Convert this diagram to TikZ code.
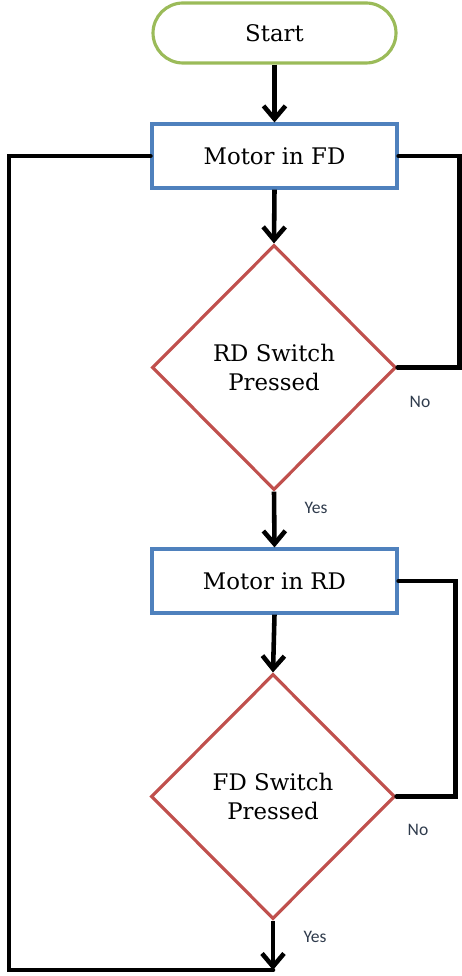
\documentclass[tikz,border=0pt]{standalone}
\usepackage{fontspec}
\setmainfont{DejaVu Serif}
\newfontfamily\notefont{Carlito}
\usetikzlibrary{arrows.meta,shapes.geometric}
\definecolor{flowgreen}{HTML}{9BBB59}
\definecolor{flowblue}{HTML}{4F81BD}
\definecolor{flowred}{HTML}{C0504D}
\definecolor{flownote}{HTML}{2F3B4C}

\begin{document}
\begin{tikzpicture}[
  x=0.02cm,y=-0.02cm,
  terminal/.style={draw=flowgreen,line width=1.8pt,rounded corners=0.6cm,
    minimum width=4.86cm,minimum height=1.2cm,inner sep=0pt,
    font=\fontsize{13}{16}\selectfont},
  process/.style={draw=flowblue,line width=1.8pt,
    minimum width=4.9cm,minimum height=1.28cm,inner sep=0pt,
    font=\fontsize{13}{16}\selectfont},
  decision/.style={diamond,draw=flowred,line width=1.8pt,
    minimum width=4.88cm,minimum height=4.9cm,inner sep=0pt,align=center,
    font=\fontsize{13}{17}\selectfont},
  wire/.style={-{Straight Barb[length=2.6mm,width=4.4mm,line width=2.6pt]},
    draw=black,line width=2.6pt},
  loop/.style={draw=black,line width=2.6pt,line cap=round},
  note/.style={font=\notefont\fontsize{10}{12}\selectfont,text=flownote},
]
  \useasboundingbox (0,0) rectangle (462,976);

  \node[terminal] (start) at (274.5,33) {Start};
  \node[process] (fd) at (274.5,156) {Motor in FD};
  \node[decision] (rdsw) at (274,367.5) {RD Switch\\Pressed};
  \node[process] (rd) at (274.5,581) {Motor in RD};
  \node[decision] (fdsw) at (273,796.5) {FD Switch\\Pressed};
  \coordinate (bot) at (273,970);

  \draw[wire] (start.south) -- (fd.north);
  \draw[wire] (fd.south) -- (rdsw.north);
  \draw[wire] (rdsw.south) -- (rd.north);
  \draw[wire] (rd.south) -- (fdsw.north);
  \draw[wire] (fdsw.south) -- (bot);

  % "No" keeps the motor running, "Yes" falls through to the next step.
  \draw[loop] (rdsw.east) -- ++(62,0) |- (fd.east);
  \draw[loop] (fdsw.east) -- ++(59,0) |- (rd.east);
  \draw[loop] (bot) -- ++(-264,0) |- (fd.west);

  \node[note] (no1) at (420,402) {No};
  \node[note] (yes1) at (316,508) {Yes};
  \node[note] (no2) at (418,830) {No};
  \node[note] (yes2) at (315,937) {Yes};
\end{tikzpicture}
\end{document}
